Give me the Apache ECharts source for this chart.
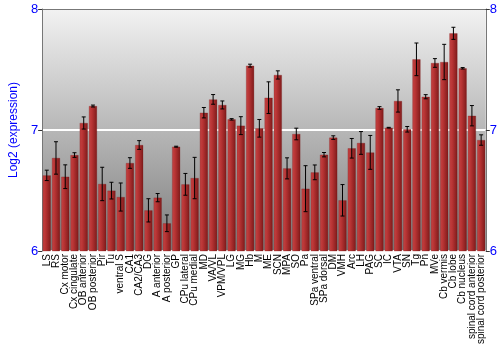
<!DOCTYPE html>
<html>
<head>
<meta charset="UTF-8">
<title></title>
<style>
body{margin:0;}
#box{width:500px;height:350px;}
</style>
</head>
<body>
<div id="box"></div>
<script type="text/javascript" src="https://cdn.jsdelivr.net/npm/echarts@6/dist/echarts.min.js"></script>
<script type="text/javascript">
var regions = ['LS','RS','Cx motor','Cx cingulate','OB anterior','OB posterior','Pir','Tu','ventral S','CA1','CA2/CA3','DG','A anterior','A posterior','GP','CPu lateral','CPu medial','MD','VA/VL','VPM/VPL','LG','MG','Hb','M','ME','SCN','MPA','SO','Pa','SPa ventral','SPa dorsal','DM','VMH','Arc','LH','PAG','SC','IC','VTA','SN','Tg','Pn','MVe','Cb vermis','Cb lobe','Cb nucleus','spinal cord anterior','spinal cord posterior'];
var expr = [6.625,6.769,6.614,6.793,7.058,7.198,6.554,6.499,6.446,6.727,6.876,6.336,6.441,6.229,6.862,6.551,6.603,7.143,7.253,7.207,7.088,7.036,7.532,7.014,7.267,7.455,6.683,6.967,6.515,6.65,6.796,6.937,6.419,6.849,6.893,6.815,7.182,7.019,7.24,7.006,7.584,7.275,7.554,7.562,7.799,7.51,7.118,6.917];
var err = [0.043,0.134,0.098,0.019,0.05,0.008,0.138,0.069,0.116,0.044,0.036,0.096,0.034,0.069,0.004,0.09,0.171,0.043,0.04,0.033,0.006,0.074,0.012,0.073,0.131,0.034,0.087,0.048,0.19,0.061,0.018,0.015,0.13,0.081,0.094,0.14,0.011,0.003,0.092,0.023,0.135,0.017,0.036,0.146,0.05,0.006,0.084,0.043];
var yTicks = [6,7,8];

var myechart = echarts.init(document.getElementById('box'));

var errData = expr.map(function(v,i){ return [i, v-err[i], v+err[i]]; });

var yAxisBase = {
	type:'value', min:6, max:8, interval:1,
	axisLine:{show:true,lineStyle:{color:'#777',width:1}},
	axisTick:{show:true,length:4,lineStyle:{color:'#333'}},
	axisLabel:{color:'#0000ff',fontSize:13,fontFamily:'Liberation Sans',margin:4,
		formatter:function(v){ return yTicks.indexOf(v)>=0 ? String(v) : ''; }},
	splitLine:{show:false}
};

var option = {
	animation:false,
	grid:{left:27,right:14,top:9,bottom:99,show:true,borderWidth:0,
		backgroundColor:new echarts.graphic.LinearGradient(0,0,0,1,[
			{offset:0,color:'#f2f2f2'},{offset:1,color:'#7c7c7c'}])},
	xAxis:[{
		type:'category', data:regions,
		axisLine:{show:false}, axisTick:{show:false},
		axisLabel:{interval:0,rotate:90,fontSize:10,color:'#000',fontFamily:'Liberation Sans',margin:3}
	},{
		type:'category', data:regions, position:'top',
		axisLine:{show:true,lineStyle:{color:'#777',width:1}}, axisTick:{show:false},
		axisLabel:{show:false}
	}],
	yAxis:[
		Object.assign({},yAxisBase,{position:'left',name:'Log2 (expression)',nameLocation:'middle',nameGap:16,
			nameTextStyle:{color:'#0000ff',fontSize:12,fontFamily:'Liberation Sans'},
			splitLine:{show:true,lineStyle:{color:'#ffffff',width:2}}}),
		Object.assign({},yAxisBase,{position:'right'})
	],
	series:[{
		type:'bar', data:expr, barCategoryGap:'12%',
		itemStyle:{
			color:new echarts.graphic.LinearGradient(0,0,1,0,[
				{offset:0,color:'#c44444'},{offset:0.35,color:'#b83434'},{offset:1,color:'#7e1a1a'}]),
			borderColor:'rgba(120,20,20,0.5)',borderWidth:0.5
		}
	},{
		type:'custom', data:errData, z:10,
		renderItem:function(params,api){
			var x = api.value(0);
			var lo = api.coord([x, api.value(1)]);
			var hi = api.coord([x, api.value(2)]);
			var c = 2;
			var st = {stroke:'#000',lineWidth:1};
			return {type:'group',children:[
				{type:'line',shape:{x1:lo[0],y1:lo[1],x2:hi[0],y2:hi[1]},style:st},
				{type:'line',shape:{x1:lo[0]-c,y1:lo[1],x2:lo[0]+c,y2:lo[1]},style:st},
				{type:'line',shape:{x1:hi[0]-c,y1:hi[1],x2:hi[0]+c,y2:hi[1]},style:st}
			]};
		}
	}]
};
myechart.setOption(option);
</script>
</body>
</html>
